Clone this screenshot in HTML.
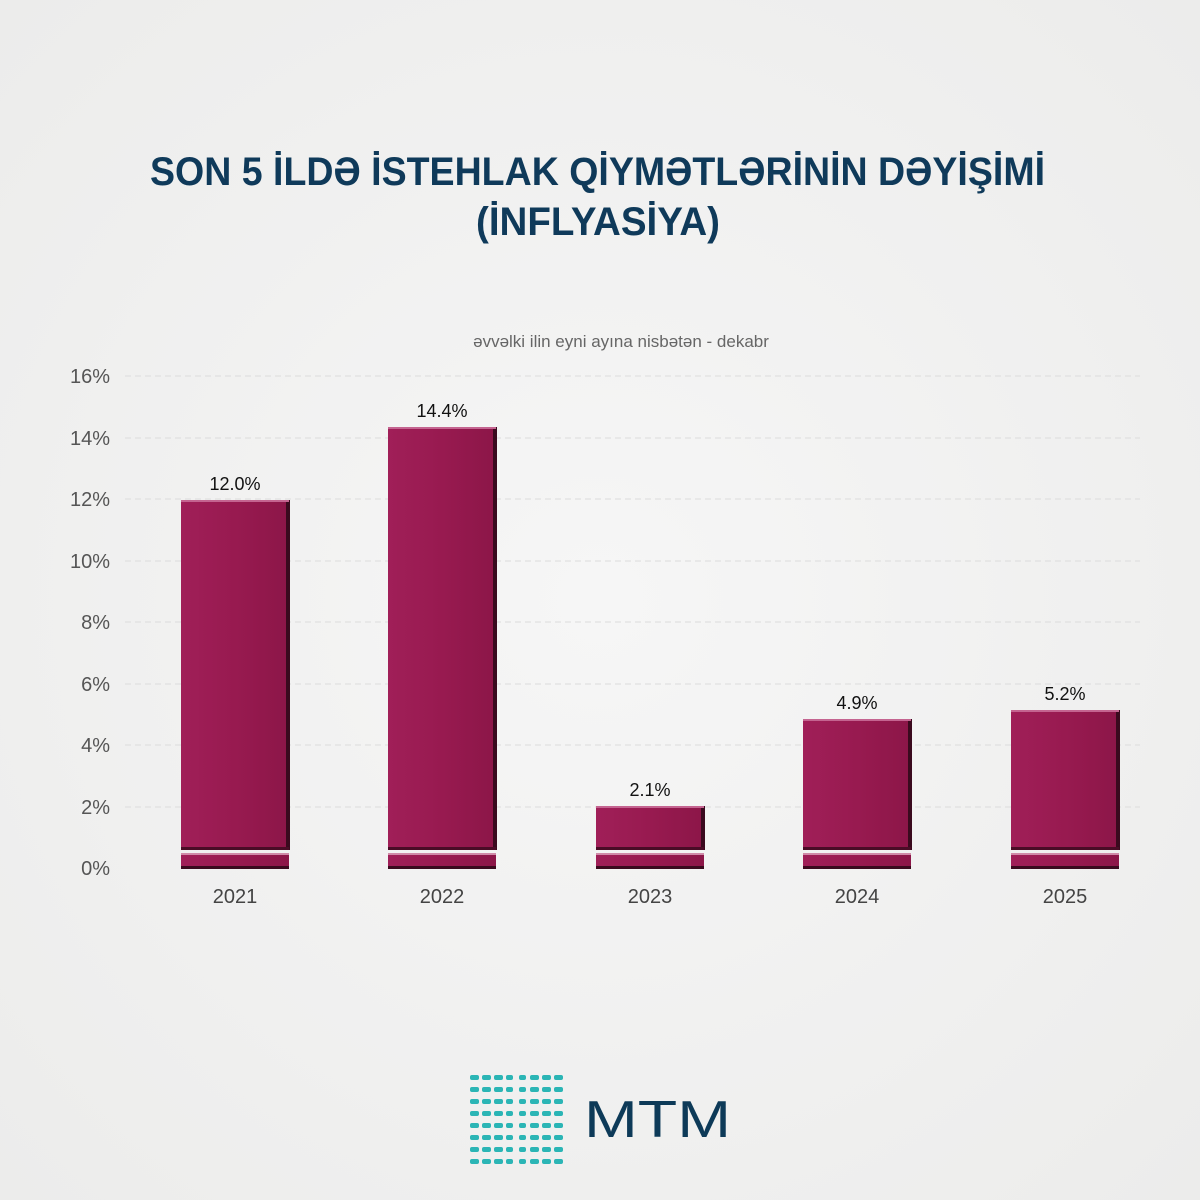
<!DOCTYPE html>
<html><head><meta charset="utf-8"><style>
html,body{margin:0;padding:0;background:#f1f1f0;}
svg{display:block}
text{font-family:"Liberation Sans",sans-serif}
</style></head><body>
<svg width="1200" height="1200" viewBox="0 0 1200 1200" xmlns="http://www.w3.org/2000/svg">
<defs>
<linearGradient id="bar" x1="0" y1="0" x2="1" y2="0">
<stop offset="0" stop-color="#a01f58"/><stop offset="0.5" stop-color="#981a50"/><stop offset="1" stop-color="#8c1648"/>
</linearGradient>
<radialGradient id="bg" cx="0.5" cy="0.5" r="0.7"><stop offset="0" stop-color="#f6f6f6"/><stop offset="1" stop-color="#ececeb"/></radialGradient>
<g id="row" fill="#2bb5b5">
<rect x="470" y="0" width="9" height="5" rx="2"/><rect x="482" y="0" width="9" height="5" rx="2"/><rect x="494" y="0" width="9" height="5" rx="2"/><rect x="506" y="0" width="7" height="5" rx="2"/><rect x="519" y="0" width="7" height="5" rx="2"/><rect x="530" y="0" width="9" height="5" rx="2"/><rect x="542" y="0" width="9" height="5" rx="2"/><rect x="554" y="0" width="9" height="5" rx="2"/>
</g>
</defs>
<rect width="1200" height="1200" fill="url(#bg)"/>
<text x="150" y="185" textLength="895" lengthAdjust="spacingAndGlyphs" font-size="40" font-weight="bold" fill="#0f3a5a">SON 5 İLDƏ İSTEHLAK QİYMƏTLƏRİNİN DƏYİŞİMİ</text>
<text x="476" y="235" textLength="244" lengthAdjust="spacingAndGlyphs" font-size="40" font-weight="bold" fill="#0f3a5a">(İNFLYASİYA)</text>
<text x="621" y="347" text-anchor="middle" font-size="17" fill="#666">əvvəlki ilin eyni ayına nisbətən - dekabr</text>
<g stroke="#dcdcdc" stroke-dasharray="6 4" stroke-width="1">
<line x1="125" y1="376" x2="1140" y2="376"/><line x1="125" y1="438" x2="1140" y2="438"/>
<line x1="125" y1="499" x2="1140" y2="499"/><line x1="125" y1="561" x2="1140" y2="561"/>
<line x1="125" y1="622" x2="1140" y2="622"/><line x1="125" y1="684" x2="1140" y2="684"/>
<line x1="125" y1="745" x2="1140" y2="745"/><line x1="125" y1="807" x2="1140" y2="807"/>
</g>
<g font-size="20" fill="#555" text-anchor="end">
<text x="110" y="383">16%</text><text x="110" y="445">14%</text><text x="110" y="506">12%</text>
<text x="110" y="568">10%</text><text x="110" y="629">8%</text><text x="110" y="691">6%</text>
<text x="110" y="752">4%</text><text x="110" y="814">2%</text><text x="110" y="875">0%</text>
</g>
<g>
<rect x="181" y="500" width="108" height="350" fill="url(#bar)"/><rect x="286" y="500" width="4" height="350" fill="#3a0a1e"/><rect x="181" y="847" width="108" height="3" fill="#4a0c26"/><rect x="181" y="500" width="108" height="2" fill="#c46490"/>
<rect x="181" y="853" width="108" height="16" fill="url(#bar)"/><rect x="181" y="853" width="108" height="2" fill="#d08aa8"/><rect x="181" y="866" width="108" height="3" fill="#3a0a1e"/>
<text x="235" y="490" text-anchor="middle" font-size="18" fill="#111">12.0%</text>
<text x="235" y="903" text-anchor="middle" font-size="20" fill="#444">2021</text>
</g>
<g>
<rect x="388" y="427" width="108" height="423" fill="url(#bar)"/><rect x="493" y="427" width="4" height="423" fill="#3a0a1e"/><rect x="388" y="847" width="108" height="3" fill="#4a0c26"/><rect x="388" y="427" width="108" height="2" fill="#c46490"/>
<rect x="388" y="853" width="108" height="16" fill="url(#bar)"/><rect x="388" y="853" width="108" height="2" fill="#d08aa8"/><rect x="388" y="866" width="108" height="3" fill="#3a0a1e"/>
<text x="442" y="417" text-anchor="middle" font-size="18" fill="#111">14.4%</text>
<text x="442" y="903" text-anchor="middle" font-size="20" fill="#444">2022</text>
</g>
<g>
<rect x="596" y="806" width="108" height="44" fill="url(#bar)"/><rect x="701" y="806" width="4" height="44" fill="#3a0a1e"/><rect x="596" y="847" width="108" height="3" fill="#4a0c26"/><rect x="596" y="806" width="108" height="2" fill="#c46490"/>
<rect x="596" y="853" width="108" height="16" fill="url(#bar)"/><rect x="596" y="853" width="108" height="2" fill="#d08aa8"/><rect x="596" y="866" width="108" height="3" fill="#3a0a1e"/>
<text x="650" y="796" text-anchor="middle" font-size="18" fill="#111">2.1%</text>
<text x="650" y="903" text-anchor="middle" font-size="20" fill="#444">2023</text>
</g>
<g>
<rect x="803" y="719" width="108" height="131" fill="url(#bar)"/><rect x="908" y="719" width="4" height="131" fill="#3a0a1e"/><rect x="803" y="847" width="108" height="3" fill="#4a0c26"/><rect x="803" y="719" width="108" height="2" fill="#c46490"/>
<rect x="803" y="853" width="108" height="16" fill="url(#bar)"/><rect x="803" y="853" width="108" height="2" fill="#d08aa8"/><rect x="803" y="866" width="108" height="3" fill="#3a0a1e"/>
<text x="857" y="709" text-anchor="middle" font-size="18" fill="#111">4.9%</text>
<text x="857" y="903" text-anchor="middle" font-size="20" fill="#444">2024</text>
</g>
<g>
<rect x="1011" y="710" width="108" height="140" fill="url(#bar)"/><rect x="1116" y="710" width="4" height="140" fill="#3a0a1e"/><rect x="1011" y="847" width="108" height="3" fill="#4a0c26"/><rect x="1011" y="710" width="108" height="2" fill="#c46490"/>
<rect x="1011" y="853" width="108" height="16" fill="url(#bar)"/><rect x="1011" y="853" width="108" height="2" fill="#d08aa8"/><rect x="1011" y="866" width="108" height="3" fill="#3a0a1e"/>
<text x="1065" y="700" text-anchor="middle" font-size="18" fill="#111">5.2%</text>
<text x="1065" y="903" text-anchor="middle" font-size="20" fill="#444">2025</text>
</g>
<use href="#row" y="1075"/><use href="#row" y="1087"/><use href="#row" y="1099"/><use href="#row" y="1111"/>
<use href="#row" y="1123"/><use href="#row" y="1135"/><use href="#row" y="1147"/><use href="#row" y="1159"/>
<text x="584" y="1137" textLength="147" lengthAdjust="spacingAndGlyphs" font-size="52" fill="#0d3a58">MTM</text>
</svg>
</body></html>
